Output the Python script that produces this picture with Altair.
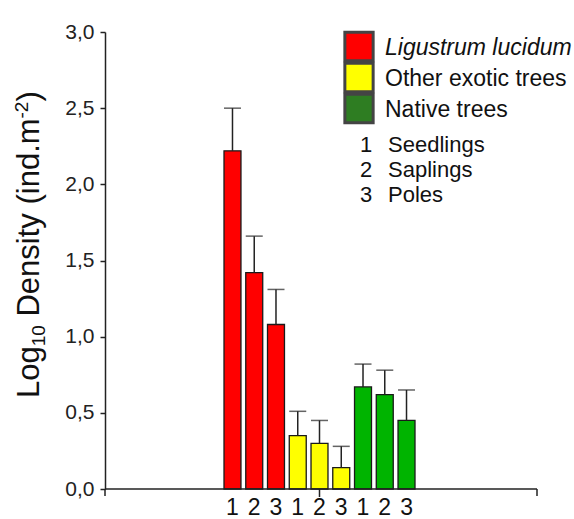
import altair as alt
import pandas as pd

# ---- data ----
groups = ["Ligustrum lucidum", "Other exotic trees", "Native trees"]
group_codes = ["L", "O", "N"]
stages = ["1", "2", "3"]
stage_names = ["Seedlings", "Saplings", "Poles"]
bar_colors = ["#FF0000", "#FFFF00", "#00B400"]
legend_colors = ["#FF0000", "#FFFF00", "#2E7D22"]

means = [2.22, 1.42, 1.08, 0.35, 0.30, 0.14, 0.67, 0.62, 0.45]
uppers = [2.50, 1.66, 1.31, 0.51, 0.45, 0.28, 0.82, 0.78, 0.65]
y_ticks = [0.0, 0.5, 1.0, 1.5, 2.0, 2.5, 3.0]

# y title pieces: (text, role, gap-before in em)  role: main / sub / sup
title_parts = [("Log", "main", 0.0), ("10", "sub", 0.0), ("Density (ind.m", "main", 0.278),
               ("-2", "sup", 0.0), (")", "main", 0.0)]

rows = []
i = 0
for g, code, col in zip(groups, group_codes, bar_colors):
    for s in stages:
        rows.append({"key": code + s, "group": g, "stage": s,
                     "mean": means[i], "upper": uppers[i], "color": col})
        i += 1
df = pd.DataFrame(rows)
keys = list(df["key"])

W, H = 432, 457
FONT = "Liberation Sans"

x_enc = alt.X("key:N", sort=keys,
              scale=alt.Scale(domain=keys, range=[119, 310], paddingOuter=0, paddingInner=0.22),
              axis=alt.Axis(title=None, ticks=False, domain=False, labelAngle=0, labelFontSize=23,
                            labelFont=FONT, labelColor="#111", labelPadding=7,
                            labelExpr="substring(datum.label, 1)"))
y_enc = alt.Y("mean:Q",
              scale=alt.Scale(domain=[0, 3], nice=False),
              axis=alt.Axis(title=None, values=y_ticks,
                            labelExpr="replace(format(datum.value, '.1f'), '.', ',')",
                            labelFontSize=21, labelFont=FONT, labelColor="#222",
                            tickSize=5, tickWidth=1.5, tickColor="#222",
                            domainColor="#222", domainWidth=1.5, labelPadding=6,
                            grid=False))

base = alt.Chart(df)
bars = base.mark_bar(stroke="#1a1a1a", strokeWidth=1.3).encode(
    x=x_enc, y=y_enc,
    fill=alt.Fill("color:N", scale=None),
)
err = base.mark_rule(color="#222", strokeWidth=1.5).encode(
    x=alt.X("key:N", sort=keys), y="mean:Q", y2="upper:Q")
caps = base.mark_tick(color="#222", thickness=1.5, size=17, orient="horizontal").encode(
    x=alt.X("key:N", sort=keys), y="upper:Q")

# x-axis line and its ticks: both ends and middle
tick_df = pd.DataFrame({"key": [keys[4]]})
x_domain = alt.Chart(tick_df).mark_rule(color="#222", strokeWidth=1.5).encode(
    x=alt.value(0), x2=alt.value(W), y=alt.value(H))
mid_tick = alt.Chart(tick_df).mark_rule(color="#222", strokeWidth=1.5).encode(
    x=alt.X("key:N", sort=keys), y=alt.value(H), y2=alt.value(H + 8))
end_ticks = [
    alt.Chart(tick_df).mark_rule(color="#222", strokeWidth=1.5).encode(
        x=alt.value(xv), y=alt.value(H), y2=alt.value(H + 7))
    for xv in (0, W)
]

# ---- y-axis title built from rotated text pieces (for real sub/superscripts) ----
ARIAL_W = {"L": 556, "o": 556, "g": 556, "1": 556, "0": 556, " ": 278,
           "D": 722, "e": 556, "n": 556, "s": 500, "i": 222, "t": 278, "y": 500,
           "(": 333, "d": 556, ".": 278, "m": 833, "-": 333, "2": 556, ")": 333}
TF = 31
SMALL = 19
base_x = -66       # baseline position, relative to plot left
cur_y = 366        # bottom start, relative to plot top
title_layers = []
for txt, role, gap in title_parts:
    fs = TF if role == "main" else SMALL
    dx = 0 if role == "main" else (6 if role == "sub" else -11)
    cur_y -= gap * TF
    d = alt.Data(values=[{"t": txt}])
    title_layers.append(
        alt.Chart(d).mark_text(align="left", baseline="alphabetic", angle=270,
                               fontSize=fs, font=FONT, color="#111").encode(
            x=alt.value(base_x + dx), y=alt.value(cur_y), text="t:N"))
    cur_y -= sum(ARIAL_W[c] for c in txt) * fs / 1000.0

# ---- custom legend ----
legend_layers = []
for k, (name, col) in enumerate(zip(groups, legend_colors)):
    d = alt.Data(values=[{"name": name}])
    yv = 14.5 + 31 * k
    legend_layers.append(
        alt.Chart(d).mark_square(size=800, fill=col, fillOpacity=1, stroke="#444",
                                 strokeWidth=3).encode(x=alt.value(254), y=alt.value(yv)))
    legend_layers.append(
        alt.Chart(d).mark_text(align="left", baseline="middle", fontSize=23, font=FONT,
                               color="#111",
                               fontStyle="italic" if k == 0 else "normal").encode(
            x=alt.value(280), y=alt.value(yv + 1), text="name:N"))
for k, (num, nm) in enumerate(zip(stages, stage_names)):
    d = alt.Data(values=[{"num": num, "nm": nm}])
    yv = 113 + 25 * k
    legend_layers.append(
        alt.Chart(d).mark_text(align="center", baseline="middle", fontSize=22, font=FONT,
                               color="#111").encode(
            x=alt.value(261), y=alt.value(yv), text="num:N"))
    legend_layers.append(
        alt.Chart(d).mark_text(align="left", baseline="middle", fontSize=22, font=FONT,
                               color="#111").encode(
            x=alt.value(283), y=alt.value(yv), text="nm:N"))

chart = alt.layer(bars, err, caps, x_domain, mid_tick, *end_ticks,
                  *title_layers, *legend_layers).properties(
    width=W, height=H,
    autosize=alt.AutoSizeParams(type="none"),
    padding={"left": 105, "top": 32, "right": 37, "bottom": 30},
    background="white",
).configure_view(stroke=None)

chart.save("out.html", embed_options={"renderer": "svg", "actions": False})
